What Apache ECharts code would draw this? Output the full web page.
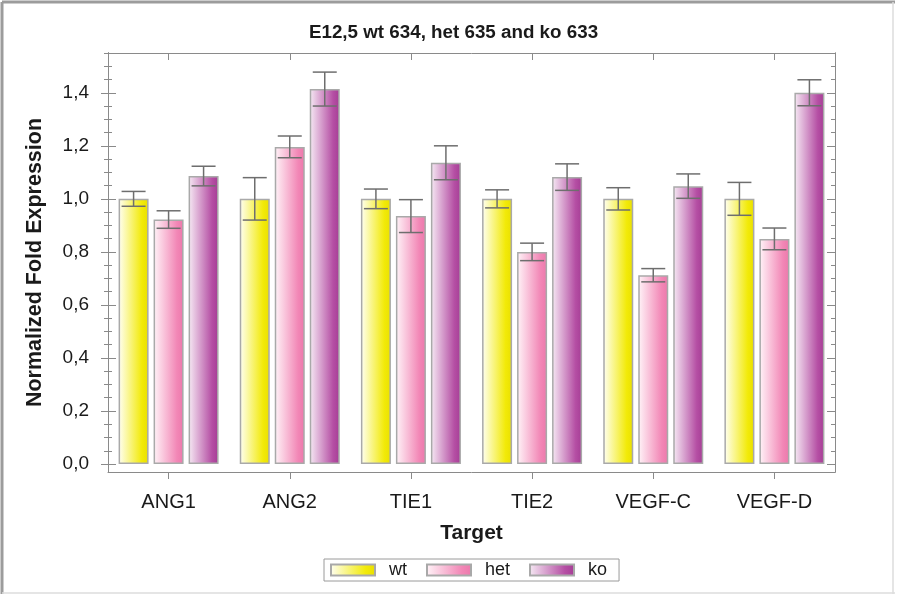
<!DOCTYPE html>
<html>
<head>
<meta charset="utf-8">
<script src="https://cdn.jsdelivr.net/npm/echarts@6/dist/echarts.min.js"></script>
<style>
html,body{margin:0;padding:0;background:#fff;}
#chart{width:907px;height:597px;}
</style>
</head>
<body>
<div id="chart"></div>
<script>
const titleText = 'E12,5 wt 634, het 635 and ko 633';
const categories = ['ANG1', 'ANG2', 'TIE1', 'TIE2', 'VEGF-C', 'VEGF-D'];
const seriesNames = ['wt', 'het', 'ko'];
const wtValues  = [1.000, 1.000, 1.000, 1.000, 1.000, 1.000];
const wtErrors  = [0.028, 0.080, 0.037, 0.034, 0.042, 0.062];
const hetValues = [0.922, 1.196, 0.935, 0.800, 0.712, 0.849];
const hetErrors = [0.033, 0.041, 0.062, 0.033, 0.025, 0.041];
const koValues  = [1.086, 1.414, 1.136, 1.082, 1.048, 1.400];
const koErrors  = [0.037, 0.064, 0.064, 0.050, 0.046, 0.049];
const yMajorTicks = [0, 0.2, 0.4, 0.6, 0.8, 1.0, 1.2, 1.4];
const yMinorTicks = [0.05, 0.1, 0.15, 0.25, 0.3, 0.35, 0.45, 0.5, 0.55, 0.65, 0.7, 0.75,
  0.85, 0.9, 0.95, 1.05, 1.1, 1.15, 1.25, 1.3, 1.35, 1.45, 1.5, 1.55];
const yMin = -0.03, yMax = 1.55;

const BAR_W = 30, BAR_GAP = 5, CAP_HALF = 12;
const AXIS_COLOR = '#8a8a8a';
const FONT = 'Liberation Sans, Arial, sans-serif';
const TEXT_COLOR = '#1a1a1a';

function grad(c0, c1, c2) {
  return new echarts.graphic.LinearGradient(0, 0, 1, 0, [
    {offset: 0, color: c0}, {offset: 0.78, color: c1}, {offset: 1, color: c2}
  ]);
}
const fills = [
  grad('#fffff4', '#f2ea08', '#e9df00'),
  grad('#fff4f8', '#f287b6', '#ec78ab'),
  grad('#f6eaf4', '#b54fa4', '#a53d95')
];
const valueSets = [wtValues, hetValues, koValues];
const errorSets = [wtErrors, hetErrors, koErrors];

const fmt = v => (Math.round(v * 10) / 10).toFixed(1).replace('.', ',');

function yAx(opts) {
  return Object.assign({
    type: 'value', min: yMin, max: yMax, gridIndex: 0,
    splitLine: {show: false},
    axisLine: {show: true, onZero: false, lineStyle: {color: AXIS_COLOR, width: 1}},
    axisLabel: {show: false},
    axisTick: {show: false}
  }, opts);
}

const yAxes = [
  yAx({position: 'left',
    name: 'Normalized Fold Expression', nameLocation: 'middle', nameGap: 62,
    nameTextStyle: {fontFamily: FONT, fontSize: 21.5, fontWeight: 'bold', color: TEXT_COLOR},
    axisLabel: {show: true, customValues: yMajorTicks, formatter: fmt, margin: 19,
      fontFamily: FONT, fontSize: 19, color: TEXT_COLOR},
    axisTick: {show: true, customValues: yMajorTicks, length: 7, inside: false,
      lineStyle: {color: AXIS_COLOR}}}),
  yAx({position: 'left',
    axisTick: {show: true, customValues: yMajorTicks, length: 8, inside: true,
      lineStyle: {color: AXIS_COLOR}}}),
  yAx({position: 'left',
    axisTick: {show: true, customValues: yMinorTicks, length: 4, inside: false,
      lineStyle: {color: AXIS_COLOR}}}),
  yAx({position: 'left',
    axisTick: {show: true, customValues: yMinorTicks, length: 4, inside: true,
      lineStyle: {color: AXIS_COLOR}}}),
  yAx({position: 'right',
    axisTick: {show: true, customValues: yMajorTicks, length: 8, inside: true,
      lineStyle: {color: AXIS_COLOR}}}),
  yAx({position: 'right',
    axisTick: {show: true, customValues: yMinorTicks, length: 4, inside: true,
      lineStyle: {color: AXIS_COLOR}}})
];

const series = [];
seriesNames.forEach((name, i) => {
  series.push({
    name: name, type: 'bar', xAxisIndex: 0, yAxisIndex: 0,
    data: valueSets[i],
    barWidth: BAR_W, barGap: (BAR_GAP / BAR_W * 100) + '%',
    itemStyle: {color: fills[i], borderColor: '#a9a9a9', borderWidth: 1.5},
    emphasis: {disabled: true},
    z: 2
  });
});
seriesNames.forEach((name, i) => {
  const data = categories.map((c, k) => [k, valueSets[i][k] - errorSets[i][k], valueSets[i][k] + errorSets[i][k]]);
  series.push({
    name: name + '-err', type: 'custom', xAxisIndex: 0, yAxisIndex: 0,
    data: data, encode: {x: 0, y: [1, 2]}, z: 5, silent: true,
    renderItem: function (params, api) {
      const k = api.value(0);
      const lo = api.coord([k, api.value(1)]);
      const hi = api.coord([k, api.value(2)]);
      const x = lo[0] + (i - 1) * (BAR_W + BAR_GAP);
      const st = {stroke: '#6e6e6e', lineWidth: 1.5};
      return {type: 'group', children: [
        {type: 'line', shape: {x1: x, y1: lo[1], x2: x, y2: hi[1]}, style: st},
        {type: 'line', shape: {x1: x - CAP_HALF, y1: hi[1], x2: x + CAP_HALF, y2: hi[1]}, style: st},
        {type: 'line', shape: {x1: x - CAP_HALF, y1: lo[1], x2: x + CAP_HALF, y2: lo[1]}, style: st}
      ]};
    }
  });
});

const chart = echarts.init(document.getElementById('chart'), null, {renderer: 'canvas'});
chart.setOption({
  animation: false,
  backgroundColor: '#ffffff',
  title: {text: titleText, left: 'center', top: 18,
    textStyle: {fontFamily: FONT, fontSize: 18.8, fontWeight: 'bold', color: TEXT_COLOR}},
  grid: {left: 108, right: 72, top: 53, bottom: 125, containLabel: false},
  legend: {
    data: seriesNames, left: 324, top: 559, orient: 'horizontal',
    itemWidth: 44, itemHeight: 11, itemGap: 19,
    borderColor: '#9a9a9a', borderWidth: 1, padding: [2, 12, 2, 6],
    icon: 'rect',
    textStyle: {fontFamily: FONT, fontSize: 18, color: TEXT_COLOR, padding: [0, 0, 0, 9]},
    selectedMode: false
  },
  xAxis: [
    {type: 'category', data: categories, position: 'bottom', gridIndex: 0,
      name: 'Target', nameLocation: 'middle', nameGap: 51,
      nameTextStyle: {fontFamily: FONT, fontSize: 21, fontWeight: 'bold', color: TEXT_COLOR},
      axisLine: {show: true, onZero: false, lineStyle: {color: AXIS_COLOR}},
      axisTick: {show: true, alignWithLabel: true, length: 7, lineStyle: {color: AXIS_COLOR}},
      axisLabel: {fontFamily: FONT, fontSize: 20, color: TEXT_COLOR, margin: 20},
      splitLine: {show: false}},
    {type: 'category', data: categories, position: 'top', gridIndex: 0,
      axisLine: {show: true, onZero: false, lineStyle: {color: AXIS_COLOR}},
      axisTick: {show: true, alignWithLabel: true, inside: true, length: 7, lineStyle: {color: AXIS_COLOR}},
      axisLabel: {show: false}, splitLine: {show: false}}
  ],
  yAxis: yAxes,
  series: series,
  graphic: [
    {type: 'line', shape: {x1: 2, y1: 2, x2: 895, y2: 2}, style: {stroke: '#9c9c9c', lineWidth: 3}, z: 100},
    {type: 'line', shape: {x1: 2, y1: 2, x2: 2, y2: 594}, style: {stroke: '#9c9c9c', lineWidth: 3}, z: 100},
    {type: 'line', shape: {x1: 893, y1: 2, x2: 893, y2: 594}, style: {stroke: '#dcdcdc', lineWidth: 1.5}, z: 100},
    {type: 'line', shape: {x1: 2, y1: 593, x2: 895, y2: 593}, style: {stroke: '#dcdcdc', lineWidth: 1.5}, z: 100}
  ]
});
</script>
</body>
</html>
